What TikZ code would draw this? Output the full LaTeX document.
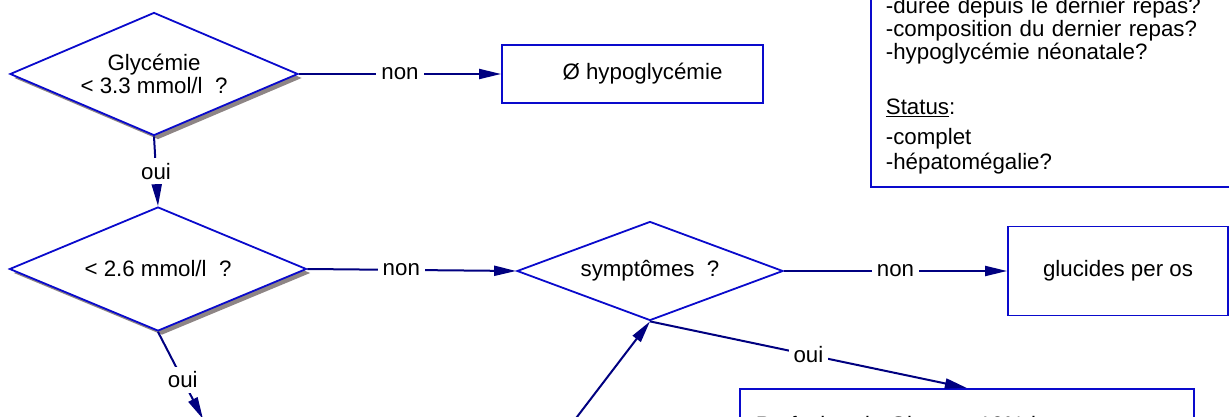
\documentclass[tikz,border=0pt]{standalone}
\usepackage{fontspec}
\setmainfont{Liberation Sans}
\usetikzlibrary{positioning,arrows.meta,shapes.geometric,shadows}
\definecolor{EdgeBlue}{HTML}{0A0ACC}
\definecolor{ArrowNavy}{HTML}{000080}
\definecolor{ShadeGray}{HTML}{8E8585}

\begin{document}
\begin{tikzpicture}[x=1pt,y=-1pt,
          every node/.style={font=\fontsize{22.3}{23}\selectfont},
          ar/.style={-{Triangle[length=22pt,width=10pt]},line width=2pt,ArrowNavy},
          decision/.style={diamond,draw=EdgeBlue,fill=white,line width=1.8pt,
            inner sep=0pt,align=center},
          dshadow/.style={drop shadow={shadow xshift=4pt,shadow yshift=-4pt,
            fill=ShadeGray,opacity=1}},
          actbox/.style={draw=EdgeBlue,fill=white,line width=1.8pt,align=center},
          lbl/.style={fill=white,text=black,inner sep=5pt}]
        \useasboundingbox (0,0) rectangle (1229,417);
        \clip (0,0) rectangle (1229,417);
        \node[decision,dshadow,minimum width=288pt,minimum height=123pt,
          shape aspect=2.34] (gly) at (154,74) {Glycémie\\< 3.3 mmol/l~~?};
        \node[decision,dshadow,minimum width=297pt,minimum height=124pt,
          shape aspect=2.4] (low) at (158,269) {< 2.6 mmol/l~~?};
        \node[decision,minimum width=266pt,minimum height=99pt,
          shape aspect=2.7] (sym) at (650,271) {symptômes~~?};
        \node[actbox,minimum width=261pt,minimum height=58pt,inner xsep=0pt]
        (hypo) at (632.5,74) {\hspace*{20pt}Ø hypoglycémie};
        \node[actbox,minimum width=220pt,minimum height=89pt]
        (oral) at (1118,271) {glucides per os};
        \node[actbox,anchor=north west,text width=422pt,inner xsep=16pt,
          inner ysep=27pt,align=left]
        (perf) at (739,388) {Perfusion de Glucose 10\% i.v.};
        \node[actbox,anchor=south west,text width=360pt,inner xsep=15pt,
          inner ysep=13pt,align=left]
        (anam) at (870,188)
        {-durée depuis le dernier repas?\\-composition du dernier repas?\\
         -hypoglycémie néonatale?\\[31.7pt]\underline{Status}:\\[7.3pt]
         -complet\\[2pt]-hépatomégalie?};
        \coordinate (lowout) at (203,419);
        \coordinate (symin) at (567,430);
        \draw[ar](gly.east) -- node[lbl]{non} (hypo.west);
        \draw[ar](gly.south) -- node[lbl]{oui} (low.north);
        \draw[ar](low.east) -- node[lbl,pos=0.45]{non} (sym.west);
        \draw[ar](low.south) -- node[lbl,pos=0.55]{oui} (lowout);
        \draw[ar](symin) -- (sym.south);
        \draw[ar](sym.east) -- node[lbl]{non} (oral.west);
        \draw[ar](sym.south) -- node[lbl]{oui} (perf.north);
      \end{tikzpicture}
\end{document}
